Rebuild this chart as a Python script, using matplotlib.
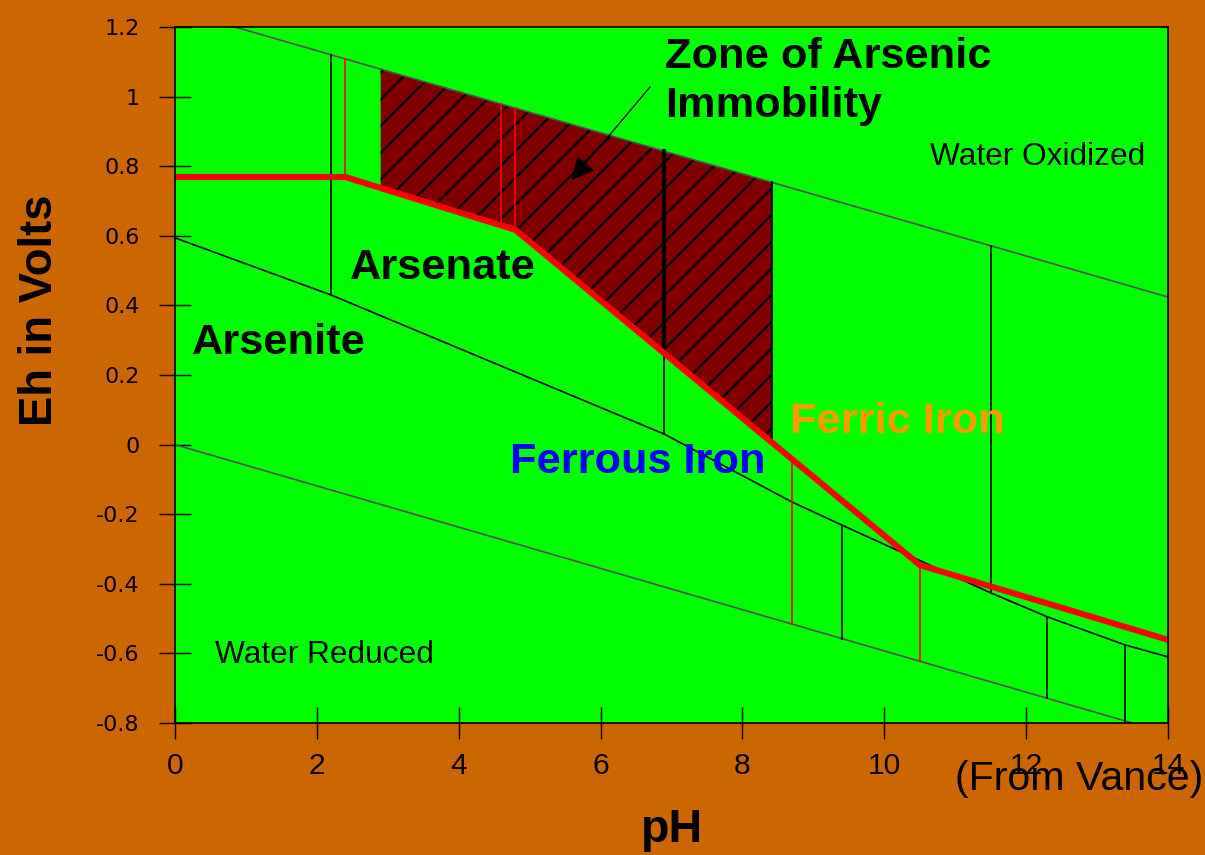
import matplotlib
matplotlib.use("Agg")
import matplotlib.pyplot as plt
import numpy as np
from matplotlib import font_manager

# font choice: narrow font for the x axis bits if the system has it
names = {f.name for f in font_manager.fontManager.ttflist}
narrow = 'Liberation Sans Narrow' if 'Liberation Sans Narrow' in names else 'Liberation Sans'

# Eh-pH diagram for arsenic and iron
water_ox_ph = [0, 14]
water_ox_eh = [1.25, 0.424]

water_red_ph = [0, 14]
water_red_eh = [0.0, -0.83]

arsenite_ph = [0, 2.2, 6.9, 8.7, 9.4, 11.5, 12.3, 13.4, 14]
arsenite_eh = [0.594, 0.430, 0.030, -0.165, -0.231, -0.426, -0.495, -0.576, -0.610]

fe_ph = [0, 2.4, 4.8, 10.5, 14]
fe_eh = [0.769, 0.769, 0.617, -0.346, -0.561]

zone_ph = [2.9, 4.8, 8.42]

xticks = [0, 2, 4, 6, 8, 10, 12, 14]
yticks = [1.2, 1.0, 0.8, 0.6, 0.4, 0.2, 0.0, -0.2, -0.4, -0.6, -0.8]
ytick_labels = ['1.2', '1', '0.8', '0.6', '0.4', '0.2', '0', '-0.2', '-0.4', '-0.6', '-0.8']

# vertical boundaries: pH, from-curve, to-curve, colour, width
curves = {
    'ox': (water_ox_ph, water_ox_eh),
    'red': (water_red_ph, water_red_eh),
    'as': (arsenite_ph, arsenite_eh),
    'fe': (fe_ph, fe_eh),
}
verticals = [
    (2.2, 'ox', 'as', 'black', 1.5),
    (2.4, 'ox', 'fe', 'red', 1.5),
    (4.6, 'ox', 'fe', 'red', 1.5),
    (4.8, 'ox', 'fe', 'red', 1.5),
    (6.9, 'ox', 'fe', 'black', 3.5),
    (6.9, 'fe', 'as', 'black', 1.5),
    (8.42, 'ox', 'fe', 'black', 1.5),
    (8.7, 'fe', 'red', 'red', 1.5),
    (9.4, 'as', 'red', 'black', 1.5),
    (10.5, 'fe', 'red', 'red', 1.5),
    (11.5, 'ox', 'as', 'black', 1.5),
    (12.3, 'as', 'red', 'black', 1.5),
    (13.4, 'as', 'red', 'black', 1.5),
]


def on(name, x):
    px, ey = curves[name]
    return np.interp(x, px, ey)


plt.rcParams['hatch.linewidth'] = 2.0

fig = plt.figure(figsize=(1205 / 80, 855 / 80), dpi=80, facecolor='#cc6600')
ax = fig.add_axes([175 / 1205, 1 - 723 / 855, 993 / 1205, 696 / 855])
ax.set_facecolor('#00ff00')

# zone of arsenic immobility
zx = np.array(zone_ph)
ax.fill_between(zx, on('fe', zx), on('ox', zx), facecolor='#800000',
                edgecolor='black', hatch='/', linewidth=0, zorder=1)

ax.plot(water_ox_ph, water_ox_eh, color='#505050', lw=1.5, zorder=2)
ax.plot(water_red_ph, water_red_eh, color='#505050', lw=1.5, zorder=2)
ax.plot(arsenite_ph, arsenite_eh, color='black', lw=1.5, zorder=3)

for x, a, b, c, w in verticals:
    ax.plot([x, x], [on(a, x), on(b, x)], color=c, lw=w, zorder=3)

ax.plot(fe_ph, fe_eh, color='red', lw=5.5, solid_joinstyle='miter', zorder=4)

bold = dict(fontsize=39, fontweight='bold', family='Liberation Sans')
ax.text(6.91, 1.082, 'Zone of Arsenic', color='black', **bold)
ax.text(6.91, 0.941, 'Immobility', color='black', **bold)
ax.text(2.47, 0.476, 'Arsenate', color='black', zorder=5, **bold)
ax.text(0.24, 0.260, 'Arsenite', color='black', **bold)
ax.text(4.72, -0.082, 'Ferrous Iron', color='#0000ff', zorder=5, **bold)
ax.text(8.67, 0.033, 'Ferric Iron', color='#ff9900', zorder=5, **bold)
ax.text(10.64, 0.803, 'Water Oxidized', fontsize=28.5, family='Liberation Sans', color='black')
ax.text(0.56, -0.628, 'Water Reduced', fontsize=28.5, family='Liberation Sans', color='black')

ax.annotate('', xy=(5.57, 0.755), xytext=(6.72, 1.033),
            arrowprops=dict(arrowstyle='-|>', mutation_scale=45, color='black', lw=1.2),
            zorder=6)

ax.set_xlim(0, 14)
ax.set_ylim(-0.8, 1.2)
ax.set_xticks(xticks)
ax.set_xticklabels([str(t) for t in xticks], family=narrow, fontsize=27)
ax.set_yticks(yticks)
ax.set_yticklabels(ytick_labels, family='DejaVu Sans', fontsize=20)
ax.tick_params(axis='both', direction='inout', length=28, width=1.3, color='black')
ax.tick_params(axis='x', pad=12)
ax.tick_params(axis='y', pad=18)
for s in ax.spines.values():
    s.set_color('black')
    s.set_linewidth(1.5)
    s.set_zorder(7)

ax.set_xlabel('pH', family=narrow, fontweight='bold', fontsize=42, va='center')
ax.xaxis.set_label_coords(0.5, -0.154)
ax.set_ylabel('Eh in Volts', family='Liberation Sans', fontweight='bold', fontsize=41, va='center')
ax.yaxis.set_label_coords(-0.136, 0.593)

fig.text(1203 / 1205, 1 - 790 / 855, '(From Vance)', family=narrow, fontsize=37,
         ha='right', va='baseline', color='black')

fig.savefig('out.png', dpi=80, facecolor=fig.get_facecolor())
